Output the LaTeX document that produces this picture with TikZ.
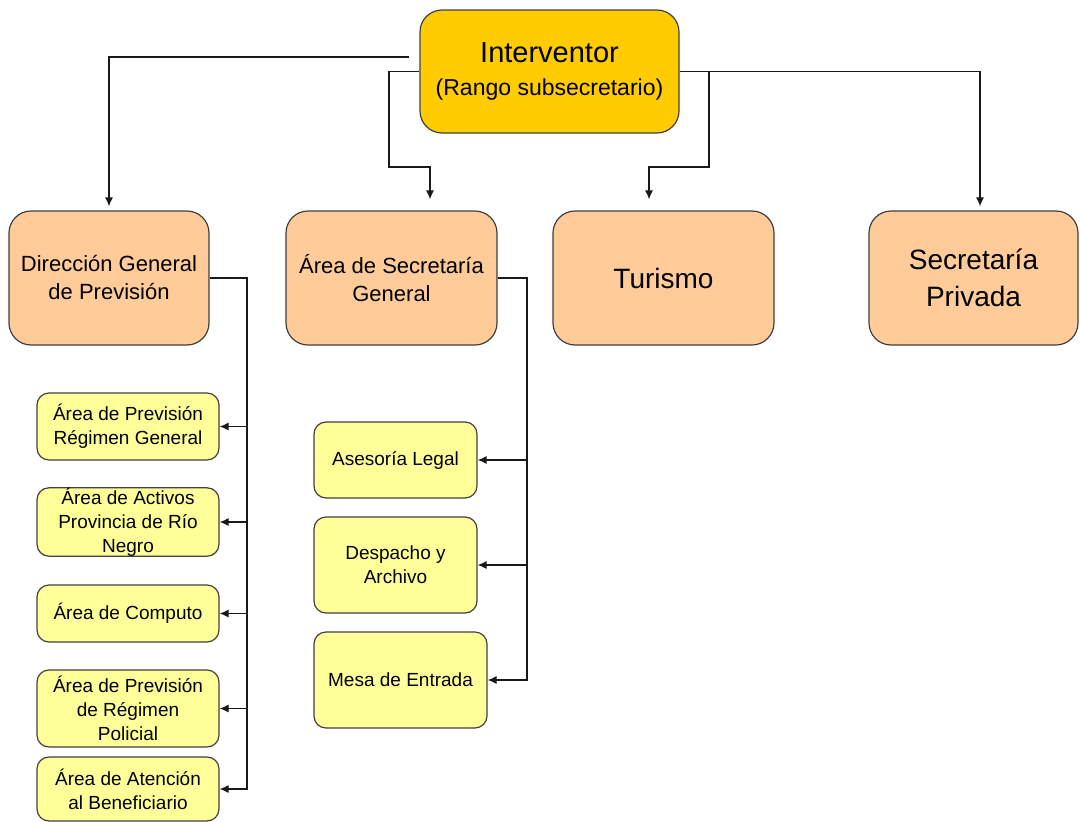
\documentclass[tikz,border=0pt]{standalone}
\usepackage{fontspec}
\setmainfont{Liberation Sans}
\usetikzlibrary{arrows.meta}

\definecolor{jefe}{HTML}{FFCC00}
\definecolor{area}{HTML}{FFCC99}
\definecolor{subarea}{HTML}{FFFF99}

\tikzset{
  caja/.style={draw=black!75,line width=1.2pt,align=center,inner sep=2pt},
  jefebox/.style={caja,fill=jefe,rounded corners=22pt,minimum width=259pt,minimum height=123pt,
    font=\fontsize{29}{33}\selectfont},
  areabox/.style={caja,fill=area,rounded corners=22pt,minimum height=134pt,
    font=\fontsize{22}{28}\selectfont},
  grande/.style={font=\fontsize{28}{37}\selectfont},
  subbox/.style={caja,fill=subarea,rounded corners=12pt,inner ysep=0pt,
    font=\fontsize{19}{24}\selectfont},
  conn/.style={black!90,line width=1.2pt,-{Latex[length=9pt,width=8pt]}}
}

\begin{document}
\begin{tikzpicture}[x=1pt,y=-1pt]
   \useasboundingbox (0,0) rectangle (1080,822);
   % jefatura
   \node [jefebox] (intv) at (549.5,71.5)
     {Interventor\\{\fontsize{23}{33}\selectfont(Rango subsecretario)}};
   % areas
   \node [areabox,minimum width=200pt] (dir) at (109,278) {Dirección General\\de Previsión};
   \node [areabox,minimum width=211pt] (sec) at (391.5,278) {Área de Secretaría\\General};
   \node [areabox,grande,minimum width=221pt] (tur) at (663.5,278) {Turismo};
   \node [areabox,grande,minimum width=209pt] (priv) at (973.5,278) {Secretaría\\Privada};
   % dependencias de prevision
   \node [subbox,minimum width=182pt,minimum height=67pt] (a1) at (128,426.5) {Área de Previsión\\Régimen General};
   \node [subbox,minimum width=182pt,minimum height=68pt] (a2) at (128,522) {Área de Activos\\Provincia de Río \\Negro};
   \node [subbox,minimum width=182pt,minimum height=57pt] (a3) at (128,613.5) {Área de Computo};
   \node [subbox,minimum width=182pt,minimum height=77pt] (a4) at (128,708.5) {Área de Previsión\\de Régimen\\Policial};
   \node [subbox,minimum width=182pt,minimum height=64pt] (a5) at (128,789) {Área de Atención\\al Beneficiario};
   % dependencias de secretaria
   \node [subbox,minimum width=163pt,minimum height=76pt] (b1) at (395.5,460) {Asesoría Legal};
   \node [subbox,minimum width=163pt,minimum height=96pt] (b2) at (395.5,565) {Despacho y\\Archivo};
   \node [subbox,minimum width=173pt,minimum height=96pt] (b3) at (400.5,680) {Mesa de Entrada};
   % conectores
   \draw [conn] ([xshift=-10pt,yshift=14.5pt]intv.west) -| ([yshift=4pt]dir.north);
   \draw [conn] (intv.west) -| (389,167) -| ([xshift=38.5pt,yshift=11pt]sec.north);
   \draw [conn] (intv.east) -| (709,167) -| ([xshift=-14.5pt,yshift=11pt]tur.north);
   \draw [conn] (intv.east) -| ([xshift=6.5pt,yshift=4pt]priv.north);
   \coordinate (dtronco) at (247,278);
   \coordinate (stronco) at (527,278);
   \foreach \n in {a1,a2,a3,a4,a5}
     \draw [conn] (dir.east) -| (dtronco |- \n.east) -- (\n.east);
   \foreach \n in {b1,b2,b3}
     \draw [conn] (sec.east) -| (stronco |- \n.east) -- (\n.east);
\end{tikzpicture}
\end{document}
